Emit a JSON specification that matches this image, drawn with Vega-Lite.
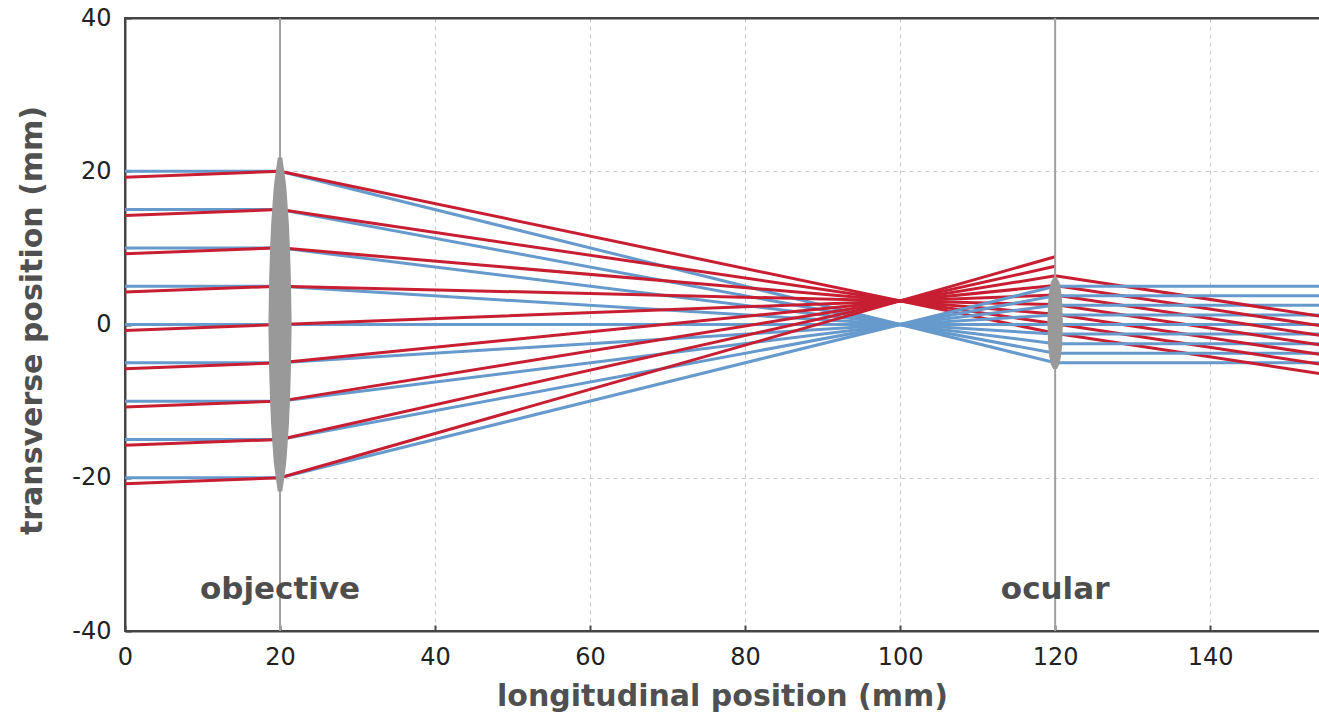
{
  "$schema": "https://vega.github.io/schema/vega-lite/v6.json",
  "width": 1196,
  "height": 613,
  "autosize": {"type": "none"},
  "padding": {"left": 125, "top": 18, "right": 0, "bottom": 86},
  "background": "white",
  "config": {
    "view": {"stroke": "#444444", "strokeWidth": 2},
    "axis": {
      "domainColor": "#444444",
      "domainWidth": 2,
      "gridWidth": 1,
      "tickColor": "#444444",
      "tickWidth": 2,
      "tickSize": -6,
      "labelFont": "DejaVu Sans",
      "labelFontSize": 24,
      "labelColor": "#222222",
      "labelFlush": false,
      "titleFont": "DejaVu Sans",
      "titleFontSize": 30,
      "titleFontWeight": "bold",
      "titleColor": "#505050"
    }
  },
  "datasets": {
    "rays": [
      {"ray": "p20", "beam": "parallel", "x": 0, "y": 20}, {"ray": "p20", "beam": "parallel", "x": 20, "y": 20}, {"ray": "p20", "beam": "parallel", "x": 120, "y": -5}, {"ray": "p20", "beam": "parallel", "x": 155, "y": -5},
      {"ray": "o20", "beam": "oblique", "x": 0, "y": 19.23}, {"ray": "o20", "beam": "oblique", "x": 20, "y": 20}, {"ray": "o20", "beam": "oblique", "x": 120, "y": -1.15}, {"ray": "o20", "beam": "oblique", "x": 155, "y": -6.54},
      {"ray": "p15", "beam": "parallel", "x": 0, "y": 15}, {"ray": "p15", "beam": "parallel", "x": 20, "y": 15}, {"ray": "p15", "beam": "parallel", "x": 120, "y": -3.75}, {"ray": "p15", "beam": "parallel", "x": 155, "y": -3.75},
      {"ray": "o15", "beam": "oblique", "x": 0, "y": 14.23}, {"ray": "o15", "beam": "oblique", "x": 20, "y": 15}, {"ray": "o15", "beam": "oblique", "x": 120, "y": 0.1}, {"ray": "o15", "beam": "oblique", "x": 155, "y": -5.29},
      {"ray": "p10", "beam": "parallel", "x": 0, "y": 10}, {"ray": "p10", "beam": "parallel", "x": 20, "y": 10}, {"ray": "p10", "beam": "parallel", "x": 120, "y": -2.5}, {"ray": "p10", "beam": "parallel", "x": 155, "y": -2.5},
      {"ray": "o10", "beam": "oblique", "x": 0, "y": 9.23}, {"ray": "o10", "beam": "oblique", "x": 20, "y": 10}, {"ray": "o10", "beam": "oblique", "x": 120, "y": 1.35}, {"ray": "o10", "beam": "oblique", "x": 155, "y": -4.04},
      {"ray": "p5", "beam": "parallel", "x": 0, "y": 5}, {"ray": "p5", "beam": "parallel", "x": 20, "y": 5}, {"ray": "p5", "beam": "parallel", "x": 120, "y": -1.25}, {"ray": "p5", "beam": "parallel", "x": 155, "y": -1.25},
      {"ray": "o5", "beam": "oblique", "x": 0, "y": 4.23}, {"ray": "o5", "beam": "oblique", "x": 20, "y": 5}, {"ray": "o5", "beam": "oblique", "x": 120, "y": 2.6}, {"ray": "o5", "beam": "oblique", "x": 155, "y": -2.79},
      {"ray": "p0", "beam": "parallel", "x": 0, "y": 0}, {"ray": "p0", "beam": "parallel", "x": 20, "y": 0}, {"ray": "p0", "beam": "parallel", "x": 120, "y": 0}, {"ray": "p0", "beam": "parallel", "x": 155, "y": 0},
      {"ray": "o0", "beam": "oblique", "x": 0, "y": -0.77}, {"ray": "o0", "beam": "oblique", "x": 20, "y": 0}, {"ray": "o0", "beam": "oblique", "x": 120, "y": 3.85}, {"ray": "o0", "beam": "oblique", "x": 155, "y": -1.54},
      {"ray": "pm5", "beam": "parallel", "x": 0, "y": -5}, {"ray": "pm5", "beam": "parallel", "x": 20, "y": -5}, {"ray": "pm5", "beam": "parallel", "x": 120, "y": 1.25}, {"ray": "pm5", "beam": "parallel", "x": 155, "y": 1.25},
      {"ray": "om5", "beam": "oblique", "x": 0, "y": -5.77}, {"ray": "om5", "beam": "oblique", "x": 20, "y": -5}, {"ray": "om5", "beam": "oblique", "x": 120, "y": 5.1}, {"ray": "om5", "beam": "oblique", "x": 155, "y": -0.29},
      {"ray": "pm10", "beam": "parallel", "x": 0, "y": -10}, {"ray": "pm10", "beam": "parallel", "x": 20, "y": -10}, {"ray": "pm10", "beam": "parallel", "x": 120, "y": 2.5}, {"ray": "pm10", "beam": "parallel", "x": 155, "y": 2.5},
      {"ray": "om10", "beam": "oblique", "x": 0, "y": -10.77}, {"ray": "om10", "beam": "oblique", "x": 20, "y": -10}, {"ray": "om10", "beam": "oblique", "x": 120, "y": 6.35}, {"ray": "om10", "beam": "oblique", "x": 155, "y": 0.96},
      {"ray": "pm15", "beam": "parallel", "x": 0, "y": -15}, {"ray": "pm15", "beam": "parallel", "x": 20, "y": -15}, {"ray": "pm15", "beam": "parallel", "x": 120, "y": 3.75}, {"ray": "pm15", "beam": "parallel", "x": 155, "y": 3.75},
      {"ray": "om15", "beam": "oblique", "x": 0, "y": -15.77}, {"ray": "om15", "beam": "oblique", "x": 20, "y": -15}, {"ray": "om15", "beam": "oblique", "x": 120, "y": 7.6},
      {"ray": "pm20", "beam": "parallel", "x": 0, "y": -20}, {"ray": "pm20", "beam": "parallel", "x": 20, "y": -20}, {"ray": "pm20", "beam": "parallel", "x": 120, "y": 5}, {"ray": "pm20", "beam": "parallel", "x": 155, "y": 5},
      {"ray": "om20", "beam": "oblique", "x": 0, "y": -20.77}, {"ray": "om20", "beam": "oblique", "x": 20, "y": -20}, {"ray": "om20", "beam": "oblique", "x": 120, "y": 8.85}
    ],
    "lenses": [
      {"lens": "objective", "y": 21.8, "x1": 19.72, "x2": 20.28},
      {"lens": "objective", "y": 21, "x1": 19.6, "x2": 20.4},
      {"lens": "objective", "y": 20, "x1": 19.45, "x2": 20.55},
      {"lens": "objective", "y": 18, "x1": 19.2, "x2": 20.8},
      {"lens": "objective", "y": 16, "x1": 19.05, "x2": 20.95},
      {"lens": "objective", "y": 13, "x1": 18.85, "x2": 21.15},
      {"lens": "objective", "y": 10, "x1": 18.72, "x2": 21.28},
      {"lens": "objective", "y": 6, "x1": 18.6, "x2": 21.4},
      {"lens": "objective", "y": 0, "x1": 18.5, "x2": 21.5},
      {"lens": "objective", "y": -6, "x1": 18.6, "x2": 21.4},
      {"lens": "objective", "y": -10, "x1": 18.72, "x2": 21.28},
      {"lens": "objective", "y": -13, "x1": 18.85, "x2": 21.15},
      {"lens": "objective", "y": -16, "x1": 19.05, "x2": 20.95},
      {"lens": "objective", "y": -18, "x1": 19.2, "x2": 20.8},
      {"lens": "objective", "y": -20, "x1": 19.45, "x2": 20.55},
      {"lens": "objective", "y": -21, "x1": 19.6, "x2": 20.4},
      {"lens": "objective", "y": -21.8, "x1": 19.72, "x2": 20.28},
      {"lens": "ocular", "y": 6.1, "x1": 119.75, "x2": 120.25},
      {"lens": "ocular", "y": 5.5, "x1": 119.45, "x2": 120.55},
      {"lens": "ocular", "y": 4.5, "x1": 119.25, "x2": 120.75},
      {"lens": "ocular", "y": 3, "x1": 119.1, "x2": 120.9},
      {"lens": "ocular", "y": 0.15, "x1": 119.0, "x2": 121.0},
      {"lens": "ocular", "y": -2.7, "x1": 119.1, "x2": 120.9},
      {"lens": "ocular", "y": -4.2, "x1": 119.25, "x2": 120.75},
      {"lens": "ocular", "y": -5.2, "x1": 119.45, "x2": 120.55},
      {"lens": "ocular", "y": -5.8, "x1": 119.75, "x2": 120.25}
    ],
    "lensAxes": [{"x": 20}, {"x": 120}],
    "labels": [
      {"label": "objective", "x": 20, "y": -34.7},
      {"label": "ocular", "x": 120, "y": -34.7}
    ]
  },
  "layer": [
    {
      "data": {"name": "rays"},
      "mark": {"type": "line", "strokeWidth": 3, "clip": true},
      "encoding": {
        "x": {
          "field": "x", "type": "quantitative",
          "scale": {"domain": [0, 154.3], "nice": false, "zero": false},
          "axis": {
            "values": [0, 20, 40, 60, 80, 100, 120, 140],
            "labelPadding": 20,
            "gridColor": "#c8c8c8",
            "gridDash": [4, 4],
            "title": "longitudinal position (mm)", "titleX": 597, "titleY": 74, "titleBaseline": "alphabetic", "titleAnchor": null, "titleAlign": "center"
          }
        },
        "y": {
          "field": "y", "type": "quantitative",
          "scale": {"domain": [-40, 40], "nice": false},
          "axis": {
            "values": [-40, -20, 0, 20, 40],
            "labelPadding": 20,
            "labelExpr": "datum.value < 0 ? '-' + abs(datum.value) : '' + datum.value",
            "gridColor": {"condition": {"test": "datum.value == 40", "value": "#444444"}, "value": "#c8c8c8"},
            "gridDash": {"condition": {"test": "datum.value == 40", "value": []}, "value": [4, 4]},
            "gridWidth": {"condition": {"test": "datum.value == 40", "value": 2}, "value": 1},
            "title": "transverse position (mm)", "titleX": -84, "titleY": 302, "titleAngle": 270, "titleAlign": "center", "titleBaseline": "alphabetic", "titleAnchor": null
          }
        },
        "color": {"field": "beam", "type": "nominal", "scale": {"domain": ["parallel", "oblique"], "range": ["#6699cc", "#c81e32"]}, "legend": null},
        "detail": {"field": "ray"}
      }
    },
    {
      "data": {"name": "lensAxes"},
      "mark": {"type": "rule", "color": "#a0a0a0", "strokeWidth": 2},
      "encoding": {"x": {"field": "x", "type": "quantitative"}}
    },
    {
      "data": {"name": "lenses"},
      "mark": {"type": "area", "orient": "horizontal", "color": "#999999"},
      "encoding": {
        "y": {"field": "y", "type": "quantitative"},
        "x": {"field": "x1", "type": "quantitative"},
        "x2": {"field": "x2"},
        "detail": {"field": "lens"}
      }
    },
    {
      "data": {"name": "labels"},
      "mark": {"type": "text", "font": "DejaVu Sans", "fontWeight": "bold", "fontSize": 31, "color": "#4d4d4d", "baseline": "middle", "align": "center"},
      "encoding": {
        "x": {"field": "x", "type": "quantitative"},
        "y": {"field": "y", "type": "quantitative"},
        "text": {"field": "label"}
      }
    }
  ]
}
